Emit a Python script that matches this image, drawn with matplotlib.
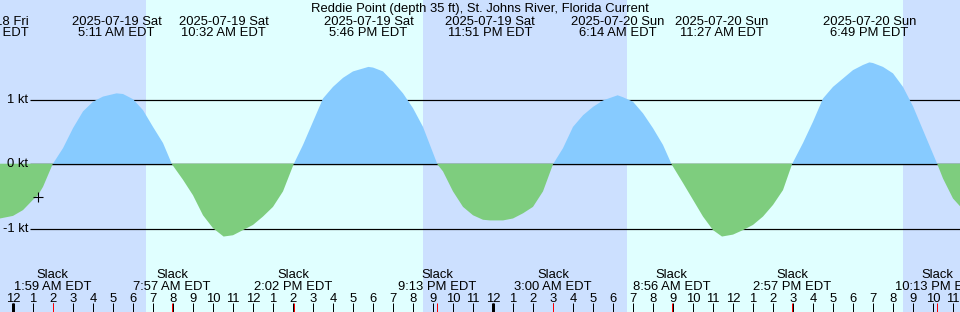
import matplotlib
matplotlib.use("Agg")
import matplotlib.pyplot as plt
import numpy as np

# ---------------- data ----------------
title = "Reddie Point (depth 35 ft), St. Johns River, Florida Current"

# current speed samples (hours since 2025-07-19 00:00 EDT, knots)
t_samples = [-0.65, 0.0, 0.5, 1.0, 1.25, 1.5, 1.98, 2.5, 3.0, 3.5, 4.0, 4.5, 5.18, 5.5,
             6.0, 6.5, 7.0, 7.5, 7.95, 8.5, 9.0, 9.5, 10.0, 10.53, 11.0, 11.5, 12.0,
             12.5, 13.0, 13.5, 14.03, 14.5, 15.0, 15.5, 16.0, 16.5, 17.0, 17.77, 18.0,
             18.5, 19.0, 19.5, 20.0, 20.5, 21.22, 21.5, 22.0, 22.5, 23.0, 23.5, 23.85,
             24.0, 24.5, 25.0, 25.5, 26.0, 26.5, 27.0, 27.5, 28.0, 28.5, 29.0, 29.5,
             30.23, 30.5, 31.0, 31.5, 32.0, 32.5, 32.93, 33.5, 34.0, 34.5, 35.0, 35.45,
             36.0, 36.5, 37.0, 37.5, 38.0, 38.5, 38.95, 39.5, 40.0, 40.5, 41.0, 41.5,
             42.0, 42.5, 42.82, 43.0, 43.5, 44.0, 44.5, 45.0, 45.5, 46.22, 46.5, 47.0,
             47.35]
v_samples = [-0.84, -0.80, -0.71, -0.55, -0.48, -0.35, 0.0, 0.25, 0.56, 0.82, 0.97, 1.05,
             1.10, 1.09, 1.01, 0.84, 0.58, 0.33, 0.0, -0.24, -0.48, -0.79, -0.99, -1.12,
             -1.10, -1.02, -0.94, -0.81, -0.66, -0.42, 0.0, 0.30, 0.66, 1.02, 1.20, 1.34,
             1.44, 1.51, 1.50, 1.44, 1.28, 1.10, 0.87, 0.58, 0.0, -0.11, -0.42, -0.66,
             -0.79, -0.86, -0.87, -0.87, -0.87, -0.84, -0.76, -0.66, -0.42, 0.0, 0.25,
             0.58, 0.76, 0.89, 0.99, 1.07, 1.04, 0.97, 0.79, 0.56, 0.30, 0.0, -0.29,
             -0.55, -0.81, -1.02, -1.12, -1.09, -1.02, -0.94, -0.81, -0.63, -0.40, 0.0,
             0.33, 0.66, 1.02, 1.20, 1.33, 1.46, 1.54, 1.58, 1.57, 1.51, 1.41, 1.20,
             0.90, 0.53, 0.0, -0.22, -0.53, -0.65]

# max flood / max ebb events
event_times = [-1.36, 5.18, 10.53, 17.77, 23.85, 30.23, 35.45, 42.82]
event_dates = ["2025-07-18 Fri", "2025-07-19 Sat", "2025-07-19 Sat", "2025-07-19 Sat",
               "2025-07-19 Sat", "2025-07-20 Sun", "2025-07-20 Sun", "2025-07-20 Sun"]
event_clock = ["10:38 PM EDT", "5:11 AM EDT", "10:32 AM EDT", "5:46 PM EDT",
               "11:51 PM EDT", "6:14 AM EDT", "11:27 AM EDT", "6:49 PM EDT"]

# slack events
slack_times = [1.98, 7.95, 14.03, 21.22, 27.0, 32.93, 38.95, 46.22]
slack_clock = ["1:59 AM EDT", "7:57 AM EDT", "2:02 PM EDT", "9:13 PM EDT",
               "3:00 AM EDT", "8:56 AM EDT", "2:57 PM EDT", "10:13 PM EDT"]

# daylight periods (sunrise, sunset)
day_periods = [(6.65, 20.5), (30.7, 44.5)]

# hour ticks
hour_ticks = list(range(0, 48))
hour_labels = ["12", "1", "2", "3", "4", "5", "6", "7", "8", "9", "10", "11",
               "12", "1", "2", "3", "4", "5", "6", "7", "8", "9", "10", "11",
               "12", "1", "2", "3", "4", "5", "6", "7", "8", "9", "10", "11",
               "12", "1", "2", "3", "4", "5", "6", "7", "8", "9", "10", "11"]
midnights = [0, 24]

y_levels = [1, 0, -1]
y_level_labels = ["1 kt", "0 kt", "-1 kt"]

now_time, now_value = 1.25, -0.50

# ---------------- style ----------------
W, H = 960, 312
NIGHT = "#cce0ff"
DAY = "#e0ffff"
FLOOD = "#87cbff"
EBB = "#7ecd7e"
FONT = "Liberation Sans"
FS = 9.4
PX = 72.0 / 100.0  # points per pixel

plt.rcParams['font.family'] = [FONT, 'DejaVu Sans']

fig = plt.figure(figsize=(W / 100, H / 100), dpi=100)
ax = fig.add_axes([0, 0, 1, 1])
x0_px, px_per_h = 13.0, 20.0
y0_px, px_per_kt = 164.3, 64.5
ax.set_xlim((0 - x0_px) / px_per_h, (W - x0_px) / px_per_h)
ax.set_ylim(-(H - y0_px) / px_per_kt, y0_px / px_per_kt)
ax.axis('off')


def yfrac(ypx):
    return 1 - ypx / H


def hx(xpx):
    return (xpx - x0_px) / px_per_h


# background
ax.axvspan(ax.get_xlim()[0], ax.get_xlim()[1], color=NIGHT, lw=0, zorder=0)
for a, b in day_periods:
    ax.axvspan(a, b, color=DAY, lw=0, zorder=0.5)

# level lines
ax.hlines(y_levels, hx(30), ax.get_xlim()[1], colors="black", lw=1.2 * PX, zorder=1)
for lv, lab in zip(y_levels, y_level_labels):
    ax.text(hx(28), lv, lab, ha="right", va="center", fontsize=FS, zorder=5)

t = np.array(t_samples)
v = np.array(v_samples)
ax.fill_between(t, v, 0, where=v >= 0, interpolate=True, color=FLOOD, lw=0, zorder=2)
ax.hlines([0], hx(30), ax.get_xlim()[1], colors="black", lw=1.2 * PX, zorder=3)
ax.fill_between(t, v, 0.009, where=v < 0.009, interpolate=True, color=EBB, lw=0, zorder=4)

# current time marker
ax.plot([now_time], [now_value], marker="+", color="black", ms=9 * PX * 1.1,
        mew=1.1 * PX, zorder=6)

tr = ax.get_xaxis_transform()
# title
ax.text(0.5, yfrac(12), title, transform=ax.transAxes, ha="center", va="baseline",
        fontsize=FS, zorder=7)
# event labels
for et, d, c in zip(event_times, event_dates, event_clock):
    ax.text(et, yfrac(24.8), d, transform=tr, ha="center", va="baseline", fontsize=FS, zorder=7)
    ax.text(et, yfrac(36.2), c, transform=tr, ha="center", va="baseline", fontsize=FS, zorder=7)
# slack labels
for st, c in zip(slack_times, slack_clock):
    ax.text(st, yfrac(278.2), "Slack", transform=tr, ha="center", va="baseline", fontsize=FS, zorder=7)
    ax.text(st, yfrac(290.2), c, transform=tr, ha="center", va="baseline", fontsize=FS, zorder=7)
# hour labels
for ht, hl in zip(hour_ticks, hour_labels):
    ax.text(ht, yfrac(302), hl, transform=tr, ha="center", va="baseline", fontsize=FS, zorder=7)

# ticks
ax.vlines(hour_ticks, yfrac(312), yfrac(302.7), transform=tr, colors="black", lw=1 * PX, zorder=7)
ax.vlines(midnights, yfrac(312), yfrac(302.7), transform=tr, colors="black", lw=3 * PX, zorder=7)
ax.vlines(slack_times, yfrac(312), yfrac(302.7), transform=tr, colors="red", lw=1 * PX, zorder=8)

fig.savefig("out.png", dpi=100)
